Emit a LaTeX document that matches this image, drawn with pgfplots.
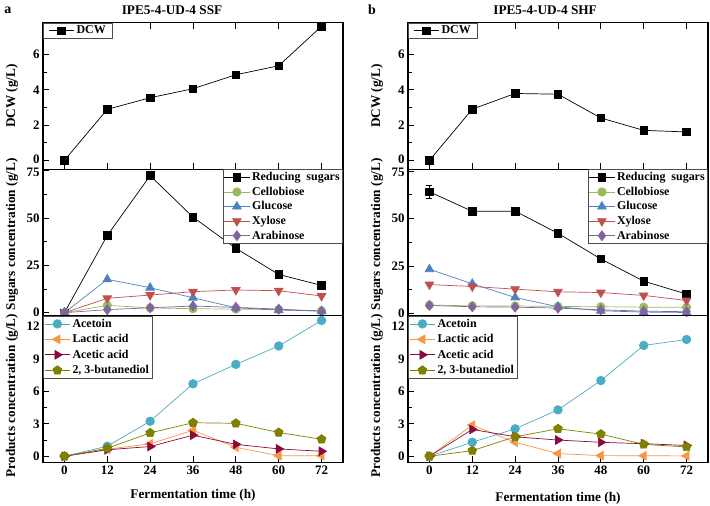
\documentclass[border=0pt]{standalone}
\usepackage{pgfplots}
\pgfplotsset{compat=1.18}
\usepackage{pgfplotstable}
\usepackage{fontspec}
\setmainfont{Liberation Serif}

\definecolor{ccel}{HTML}{9BBB59}
\definecolor{cglu}{HTML}{4F81BD}
\definecolor{cxyl}{HTML}{C0504D}
\definecolor{cara}{HTML}{8064A2}
\definecolor{cacn}{HTML}{4BACC6}
\definecolor{clac}{HTML}{F79646}
\definecolor{cace}{HTML}{8B0A3A}
\definecolor{cbdo}{HTML}{7F7F00}

\pgfplotstableread{
t dcw red cel glu xyl ara acn lac ace bdo
0  0    0    0   0    0    0   0     0    0    0
12 2.89 40.8 3.9 17.6 7.6  1.6 0.93  0.65 0.6  0.74
24 3.55 72.4 2.5 13.2 9.3  2.6 3.24  1.15 0.9  2.16
36 4.06 50.5 2.1 7.9  11.1 3.5 6.7   2.4  1.95 3.1
48 4.85 34.0 1.9 2.6  12.0 2.8 8.5   0.83 1.1  3.05
60 5.36 20.2 1.6 1.4  11.6 1.9 10.2  0.05 0.68 2.2
72 7.6  14.4 1.0 0.9  8.8  0.7 12.56 0.05 0.46 1.57
}\ssf

\pgfplotstableread{
t dcw red cel glu xyl ara acn lac ace bdo
0  0    64.1 4.4 23.3 15.2 4.2 0     0    0    0
12 2.9  53.8 4.0 15.6 14.2 3.5 1.3   2.88 2.48 0.52
24 3.79 53.9 3.9 8.4  12.8 3.3 2.54  1.29 1.8  1.8
36 3.75 42.2 3.7 3.5  11.4 2.8 4.29  0.25 1.5  2.54
48 2.4  28.7 3.5 1.4  11.0 1.9 7.0   0.06 1.29 2.05
60 1.7  17.0 3.3 0.7  9.5  1.2 10.25 0.05 1.16 1.1
72 1.61 10.2 3.2 0.5  6.8  0.9 10.8  0.03 1.0  0.86
}\shf

\newcommand{\bfs}{\bfseries\fontsize{12}{13}\selectfont}
\newcommand{\bfl}{\bfseries\fontsize{13.3}{14}\selectfont}
\newcommand{\bft}{\bfseries\fontsize{13}{13}\selectfont}

\pgfplotsset{
  panel/.style={
    scale only axis, width=300bp, height=146.5bp,
    xmin=-6, xmax=78,
    xtick={0,12,...,72},
    tick align=inside,
    major tick length=6bp, minor tick length=3.5bp,
    ytick pos=left,
    axis line style={line width=1.1bp},
    every tick/.style={line width=0.9bp, black},
    tick label style={font=\bft},
    /pgf/number format/assume math mode=true,
    clip=false,
    legend cell align=left,
    legend style={font=\bfs, draw=black!70, line width=0.6bp, inner sep=1bp, row sep=0.8bp},
    legend image code/.code={\draw[mark repeat=2,mark phase=2] plot coordinates {(0cm,0cm) (0.45cm,0cm) (0.9cm,0cm)};},
    every axis plot/.append style={line width=0.7bp},
    every axis y label/.style={at={(axis description cs:-0.103,0.5)}, rotate=90, anchor=center, font=\bfl},
  },
  toppanel/.style={ymin=-0.5, ymax=7.8, ytick={2,4,6}, minor ytick={1,3,5,7},
    extra y ticks={0}, extra y tick style={yticklabel style={yshift=1.5bp}},
    xticklabels={}, xtick pos=both, ylabel={DCW (g/L)},
    legend style={at={(0,1)}, anchor=north west, inner xsep=5bp}},
  midpanel/.style={ytick={0,25,50}, minor ytick={12.5,37.5,62.5},
    extra y ticks={75}, extra y tick style={yticklabel style={yshift=-1.5bp}},
    xtick=\empty, ylabel={Sugars concentration (g/L)},
    every axis y label/.append style={at={(axis description cs:-0.103,0.556)}},
    legend style={at={(1,1)}, anchor=north east}},
  botpanel/.style={ymin=-0.55, ymax=13.0, ytick={0,3,6,9,12}, minor ytick={1.5,4.5,7.5,10.5},
    xtick pos=bottom, ylabel={Products concentration (g/L)},
    every axis y label/.append style={at={(axis description cs:-0.103,0.455)}},
    legend style={at={(0,1)}, anchor=north west, row sep=1.7bp}},
  mdcw/.style={black, mark=square*, mark size=3.8bp, mark options={solid}},
  mred/.style={black, mark=square*, mark size=3.8bp, mark options={solid}},
  mcel/.style={ccel, mark=*, mark size=4.2bp, mark options={solid}},
  mglu/.style={cglu, mark=triangle*, mark size=5bp, mark options={solid}},
  mxyl/.style={cxyl, mark=triangle*, mark size=5bp, mark options={solid, rotate=180}},
  mara/.style={cara, mark=diamond*, mark size=5bp, mark options={solid}},
  macn/.style={cacn, mark=*, mark size=4.3bp, mark options={solid}},
  mlac/.style={clac, mark=triangle*, mark size=5bp, mark options={solid, rotate=90}},
  mace/.style={cace, mark=triangle*, mark size=5bp, mark options={solid, rotate=-90}},
  mbdo/.style={cbdo, mark=pentagon*, mark size=4.6bp, mark options={solid}},
}

\begin{document}
\begin{tikzpicture}
\useasboundingbox (0,0) rectangle (710bp,-506bp);

% ---------------- Left column (SSF) ----------------
\begin{axis}[panel, toppanel, at={(43bp,-22.7bp)}, anchor=north west]
  \addplot[mdcw] table[x=t,y=dcw]{\ssf};
  \addlegendentry{DCW}
  \node[font=\bfseries\fontsize{14}{15}\selectfont] at (axis description cs:-0.117,1.087) {a};
  \node[font=\bfl] at (axis description cs:0.43,1.087) {IPE5-4-UD-4 SSF};
\end{axis}

\begin{axis}[panel, midpanel, at={(43bp,-169.2bp)}, anchor=north west,
  ymin=-1.6, ymax=75.8]
  \addplot[mred] table[x=t,y=red]{\ssf};
  \addlegendentry{Reducing~\ sugars}
  \addplot[mcel] table[x=t,y=cel]{\ssf};
  \addlegendentry{Cellobiose}
  \addplot[mglu] table[x=t,y=glu]{\ssf};
  \addlegendentry{Glucose}
  \addplot[mxyl] table[x=t,y=xyl]{\ssf};
  \addlegendentry{Xylose}
  \addplot[mara] table[x=t,y=ara]{\ssf};
  \addlegendentry{Arabinose}
\end{axis}

\begin{axis}[panel, botpanel, at={(43bp,-315.7bp)}, anchor=north west]
  \addplot[macn] table[x=t,y=acn]{\ssf};
  \addlegendentry{Acetoin}
  \addplot[mlac] table[x=t,y=lac]{\ssf};
  \addlegendentry{Lactic acid}
  \addplot[mace] table[x=t,y=ace]{\ssf};
  \addlegendentry{Acetic acid}
  \addplot[mbdo] table[x=t,y=bdo]{\ssf};
  \addlegendentry{2, 3-butanediol}
  \node[font=\bfl] at (axis description cs:0.5,-0.225) {Fermentation time (h)};
\end{axis}

% ---------------- Right column (SHF) ----------------
\begin{axis}[panel, toppanel, at={(408bp,-22.7bp)}, anchor=north west]
  \addplot[mdcw] table[x=t,y=dcw]{\shf};
  \addlegendentry{DCW}
  \node[font=\bfseries\fontsize{14}{15}\selectfont] at (axis description cs:-0.12,1.087) {b};
  \node[font=\bfl] at (axis description cs:0.457,1.087) {IPE5-4-UD-4 SHF};
\end{axis}

\begin{axis}[panel, midpanel, at={(408bp,-169.2bp)}, anchor=north west,
  ymin=-1.2, ymax=76]
  \addplot[forget plot, black, only marks, mark=none,
    error bars/.cd, y dir=both, y explicit,
    error bar style={black, line width=0.7bp},
    error mark options={black, rotate=90, mark size=3bp, line width=0.7bp}]
    coordinates {(0,64.1) +- (0,3.4)};
  \addplot[mred] table[x=t,y=red]{\shf};
  \addlegendentry{Reducing~\ sugars}
  \addplot[mcel] table[x=t,y=cel]{\shf};
  \addlegendentry{Cellobiose}
  \addplot[mglu] table[x=t,y=glu]{\shf};
  \addlegendentry{Glucose}
  \addplot[mxyl] table[x=t,y=xyl]{\shf};
  \addlegendentry{Xylose}
  \addplot[mara] table[x=t,y=ara]{\shf};
  \addlegendentry{Arabinose}
\end{axis}

\begin{axis}[panel, botpanel, at={(408bp,-315.7bp)}, anchor=north west]
  \addplot[macn] table[x=t,y=acn]{\shf};
  \addlegendentry{Acetoin}
  \addplot[mlac] table[x=t,y=lac]{\shf};
  \addlegendentry{Lactic acid}
  \addplot[mace] table[x=t,y=ace]{\shf};
  \addlegendentry{Acetic acid}
  \addplot[mbdo] table[x=t,y=bdo]{\shf};
  \addlegendentry{2, 3-butanediol}
  \node[font=\bfl] at (axis description cs:0.5,-0.245) {Fermentation time (h)};
\end{axis}
\end{tikzpicture}
\end{document}
